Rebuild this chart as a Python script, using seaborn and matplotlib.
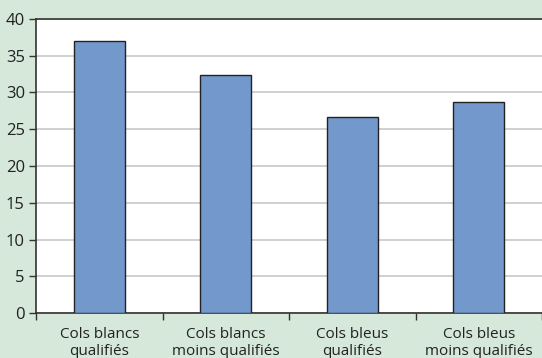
import matplotlib
matplotlib.use("Agg")
import matplotlib.pyplot as plt
import seaborn as sns
import pandas as pd
import numpy as np
from matplotlib.ticker import FixedLocator, NullFormatter

categories = ["Cols blancs\nqualifiés", "Cols blancs\nmoins qualifiés",
              "Cols bleus\nqualifiés", "Cols bleus\nmoins qualifiés"]
values = [37.0, 32.4, 26.7, 28.7]
y_ticks = [0, 5, 10, 15, 20, 25, 30, 35, 40]

bg = "#d5e8d9"
bar_color = "#7399cc"

sns.set_theme(style="white")
plt.rcParams["font.family"] = ["Open Sans", "DejaVu Sans"]

df = pd.DataFrame({"cat": categories, "val": values})

fig = plt.figure(figsize=(5.42, 3.58), dpi=100, facecolor=bg)
ax = fig.add_axes([36 / 542, 1 - 313 / 358, (542 - 36) / 542, (313 - 19) / 358])
ax.set_facecolor("white")

sns.barplot(data=df, x="cat", y="val", color=bar_color, saturation=1,
            width=0.4, edgecolor="#222222", linewidth=1.0, ax=ax, zorder=3)

ax.set_ylim(0, 40)
ax.set_xlim(-0.5, 3.5)
ax.set_yticks(y_ticks)
ax.yaxis.grid(True, color="#c8c8c8", linewidth=1.2, zorder=0)
ax.set_axisbelow(True)

# category labels centred, tick marks at category boundaries
ax.xaxis.set_major_locator(FixedLocator([-0.5, 0.5, 1.5, 2.5, 3.5]))
ax.xaxis.set_major_formatter(NullFormatter())
ax.xaxis.set_minor_locator(FixedLocator([0, 1, 2, 3]))
ax.set_xticklabels(categories, minor=True, linespacing=1.15)
ax.tick_params(axis="x", which="major", direction="out", length=5, width=1, color="#333333", bottom=True)
ax.tick_params(axis="x", which="minor", length=0, pad=10, labelsize=11, labelcolor="#222222")
ax.tick_params(axis="y", direction="out", length=5, width=1, color="#333333", left=True,
               labelsize=12, labelcolor="#222222", pad=3)

ax.set_xlabel("")
ax.set_ylabel("")

for side in ["top", "left", "bottom"]:
    ax.spines[side].set_visible(True)
    ax.spines[side].set_color("#333333")
    ax.spines[side].set_linewidth(1.2)
ax.spines["right"].set_visible(False)

fig.savefig("out.png", dpi=100, facecolor=bg)
